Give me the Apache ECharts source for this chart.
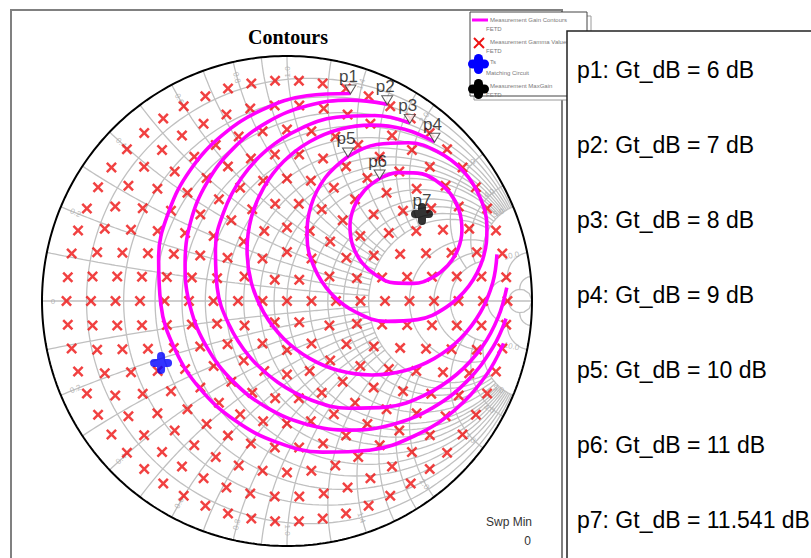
<!DOCTYPE html>
<html><head><meta charset="utf-8">
<script src="https://cdn.jsdelivr.net/npm/echarts@6/dist/echarts.min.js"></script>
<style>html,body{margin:0;padding:0;background:#fff;overflow:hidden}#c{width:811px;height:558px}</style>
</head><body><div id="c"></div>
<script>
// ---------- data (reflection coefficient Γ = [re, im]) ----------
const markerNames = ['p1','p2','p3','p4','p5','p6','p7'];
const markerGains = ['6','7','8','9','10','11','11.541'];

const contour6dB  = [[0.259,0.847],[0.081,0.838],[-0.102,0.780],[-0.264,0.677],[-0.394,0.536],[-0.482,0.366],[-0.524,0.178],[-0.515,-0.013],[-0.458,-0.196],[-0.355,-0.358],[-0.213,-0.487],[-0.043,-0.576],[0.144,-0.617],[0.336,-0.609],[0.519,-0.551],[0.680,-0.449],[0.810,-0.307],[0.884,-0.173]];
const contour7dB  = [[0.409,0.803],[0.257,0.820],[0.083,0.797],[-0.080,0.730],[-0.219,0.623],[-0.326,0.484],[-0.394,0.321],[-0.416,0.147],[-0.394,-0.027],[-0.326,-0.190],[-0.219,-0.329],[-0.080,-0.436],[0.083,-0.504],[0.257,-0.527],[0.431,-0.504],[0.594,-0.436],[0.733,-0.329],[0.840,-0.190],[0.894,-0.072]];
const contour8dB  = [[0.501,0.727],[0.358,0.757],[0.202,0.750],[0.053,0.703],[-0.080,0.619],[-0.185,0.503],[-0.258,0.364],[-0.292,0.212],[-0.285,0.055],[-0.238,-0.094],[-0.154,-0.226],[-0.038,-0.332],[0.101,-0.405],[0.254,-0.438],[0.410,-0.432],[0.560,-0.385],[0.692,-0.300],[0.798,-0.185],[0.862,-0.066],[0.897,0.055]];
const contour9dB  = [[0.602,0.650],[0.479,0.701],[0.347,0.718],[0.215,0.701],[0.092,0.650],[-0.014,0.569],[-0.095,0.463],[-0.146,0.340],[-0.163,0.208],[-0.146,0.076],[-0.095,-0.047],[-0.014,-0.153],[0.092,-0.234],[0.215,-0.285],[0.347,-0.302],[0.479,-0.285],[0.602,-0.234],[0.708,-0.153],[0.789,-0.047],[0.840,0.076],[0.857,0.190]];
const contour10dB = [[0.249,0.590],[0.156,0.503],[0.098,0.389],[0.082,0.262],[0.111,0.138],[0.180,0.031],[0.282,-0.046],[0.404,-0.083],[0.532,-0.076],[0.649,-0.026],[0.742,0.061],[0.800,0.174],[0.816,0.301],[0.787,0.425],[0.718,0.532],[0.616,0.609],[0.494,0.646],[0.366,0.639],[0.249,0.590]];
const contour11dB = [[0.378,0.500],[0.316,0.451],[0.274,0.384],[0.257,0.306],[0.268,0.227],[0.306,0.157],[0.365,0.104],[0.438,0.074],[0.518,0.072],[0.593,0.096],[0.656,0.145],[0.698,0.212],[0.714,0.290],[0.703,0.369],[0.666,0.439],[0.607,0.492],[0.533,0.522],[0.454,0.524],[0.378,0.500]];

const maxGainGamma  = [0.551, 0.355];
const matchingGamma = [-0.514, -0.253];

// measured gamma sample grid: rings of |Γ| and number of samples on each ring
const gammaRingMag   = [0, 0.1, 0.2, 0.3, 0.4, 0.5, 0.6, 0.7, 0.8, 0.9];
const gammaRingCount = [1, 6, 12, 20, 26, 32, 38, 44, 50, 58];

// Smith chart grid definition
const smithR      = [0.1,0.2,0.3,0.4,0.5,0.6,0.7,0.8,0.9,1.0,1.2,1.4,1.6,1.8,2.0,3,4,5,10,20];
const smithRLimit = [5,5,5,5,5,5,5,5,5,5,5,5,5,5,5,5,5,5,10,Infinity];
const smithX      = [0.1,0.2,0.3,0.4,0.5,0.6,0.7,0.8,0.9,1.0,1.2,1.4,1.6,1.8,2.0,3,4,5,10,20];
const smithXLimit = [2,2,2,2,2,2,2,2,2,2,2,2,2,2,2,5,5,5,10,20];
const smithLabelX = [0.2,0.4,0.6,0.8,1.0,1.4,2.0,3.0,4.0,5.0,10.0];

// ---------- helpers ----------
function gam(r, x){ const d=(r+1)*(r+1)+x*x; return [(r*r-1+x*x)/d, 2*x/d]; }
const gridLines = [];
smithR.forEach((r,i)=>{
  const L=smithRLimit[i], tm=L===Infinity?Math.PI/2*0.99999:Math.atan(L), n=180;
  for(let k=0;k<=n;k++){ const t=-tm+2*tm*k/n; gridLines.push(gam(r,Math.tan(t))); }
  gridLines.push(['-','-']);
});
smithX.forEach((x,i)=>{
  const L=smithXLimit[i], tm=L===Infinity?Math.PI/2*0.99999:Math.atan(L), n=120;
  [1,-1].forEach(s=>{
    for(let k=0;k<=n;k++){ const t=tm*k/n; gridLines.push(gam(Math.tan(t), s*x)); }
    gridLines.push(['-','-']);
  });
});
gridLines.push([-1,0],[1,0]);

const outer=[];
for(let k=0;k<=360;k++){ const a=k*Math.PI/180; outer.push([Math.cos(a),Math.sin(a)]); }

const smithLabels=[{value:[-0.955,0],name:'0',label:{rotate:0}}];
smithLabelX.forEach(v=>{
  [1,-1].forEach(s=>{
    const th=s*(Math.PI-2*Math.atan(v));
    let deg=th*180/Math.PI; if(deg>90)deg-=180; if(deg<-90)deg+=180;
    smithLabels.push({value:[0.935*Math.cos(th),0.935*Math.sin(th)],name:v.toFixed(1),label:{rotate:deg}});
  });
});

const gammaSamples=[];
gammaRingMag.forEach((m,i)=>{
  const n=gammaRingCount[i];
  for(let k=0;k<n;k++){ const a=2*Math.PI*k/n; gammaSamples.push([m*Math.cos(a), m*Math.sin(a)]); }
});

const contours=[contour6dB,contour7dB,contour8dB,contour9dB,contour10dB,contour11dB];
const markerData=contours.map((c,i)=>({name:markerNames[i],value:c[0]}));

const X_SYM='path://M0,1.6L1.6,0L5,3.4L8.4,0L10,1.6L6.6,5L10,8.4L8.4,10L5,6.6L1.6,10L0,8.4L3.4,5Z';
const PLUS_SYM='path://M7,4A4,4,0,0,1,15,4L15,7L18,7A4,4,0,0,1,18,15L15,15L15,18A4,4,0,0,1,7,18L7,15L4,15A4,4,0,0,1,4,7L7,7Z';

const series=[
  {type:'line',data:gridLines,symbol:'none',silent:true,z:1,connectNulls:false,
   lineStyle:{color:'#c0c0c0',width:1.3}},
  {type:'scatter',data:smithLabels,symbolSize:0,silent:true,z:2,
   label:{show:true,position:'inside',formatter:p=>p.name,fontSize:8,color:'#a8a8a8',fontFamily:'Liberation Sans'}},
  {type:'line',data:outer,symbol:'none',silent:true,z:3,lineStyle:{color:'#000',width:2}},
  {type:'scatter',data:gammaSamples,symbol:X_SYM,symbolSize:11,z:4,itemStyle:{color:'#ee1111'}}
];
contours.forEach(c=>series.push({type:'line',data:c,symbol:'none',smooth:0.4,z:5,
  lineStyle:{color:'#ff00ff',width:3.6}}));
series.push({type:'scatter',data:[matchingGamma],symbol:PLUS_SYM,symbolSize:22,z:6,itemStyle:{color:'#0000ff'}});
series.push({type:'scatter',data:[{name:'p7',value:maxGainGamma}],symbol:PLUS_SYM,symbolSize:22,z:6,itemStyle:{color:'#000'},
  label:{show:true,position:'top',distance:-6,formatter:'{b}',fontSize:17,color:'#111',fontFamily:'Liberation Sans'}});
series.push({type:'scatter',data:markerData,symbol:'triangle',symbolRotate:180,symbolSize:[11,9],symbolOffset:[0,-4],z:7,
  itemStyle:{color:'#fff',borderColor:'#333',borderWidth:1},
  label:{show:true,position:'top',distance:0,offset:[-2,0],formatter:'{b}',fontSize:17,color:'#111',fontFamily:'Liberation Sans'}});

// ---------- panels / texts ----------
const panelTexts=markerNames.map((n,i)=>({type:'text',x:577,y:70+75*i,z:20,
  style:{text:n+': Gt_dB = '+markerGains[i]+' dB',font:'23px "Liberation Sans", Arial',fill:'#000',verticalAlign:'middle'}}));

const lg='#7a7a7a', lf='6px "Liberation Sans", Arial';
const graphic=[
  {type:'rect',shape:{x:11,y:10,width:551,height:600},style:{fill:'none',stroke:'#808080',lineWidth:2},z:0},
  {type:'text',x:288,y:37,style:{text:'Contours',font:'bold 20px "Liberation Serif", "Times New Roman", serif',fill:'#000',align:'center',verticalAlign:'middle'},z:10},
  {type:'text',x:532,y:522,style:{text:'Swp Min',font:'12px "Liberation Sans", Arial',fill:'#333',align:'right',verticalAlign:'middle'},z:10},
  {type:'text',x:531,y:541,style:{text:'0',font:'12px "Liberation Sans", Arial',fill:'#333',align:'right',verticalAlign:'middle'},z:10},
  {type:'rect',shape:{x:474,y:16,width:117,height:84},style:{fill:'#fff',stroke:'#9a9a9a',lineWidth:1},z:11},
  {type:'rect',shape:{x:470,y:12,width:117,height:84},style:{fill:'#fff',stroke:'#444',lineWidth:1},z:12},
  {type:'line',shape:{x1:472,y1:20,x2:488,y2:20},style:{stroke:'#ff00ff',lineWidth:3},z:13},
  {type:'text',x:490,y:20,style:{text:'Measurement Gain Contours',font:lf,fill:lg,verticalAlign:'middle'},z:13},
  {type:'text',x:486,y:29,style:{text:'FETD',font:lf,fill:lg,verticalAlign:'middle'},z:13},
  {type:'line',shape:{x1:474,y1:38,x2:484,y2:48},style:{stroke:'#ee1111',lineWidth:2},z:13},
  {type:'line',shape:{x1:484,y1:38,x2:474,y2:48},style:{stroke:'#ee1111',lineWidth:2},z:13},
  {type:'text',x:490,y:42,style:{text:'Measurement Gamma Values',font:lf,fill:lg,verticalAlign:'middle'},z:13},
  {type:'text',x:486,y:51,style:{text:'FETD',font:lf,fill:lg,verticalAlign:'middle'},z:13},
  {type:'text',x:490,y:62,style:{text:'Ts',font:lf,fill:lg,verticalAlign:'middle'},z:13},
  {type:'text',x:486,y:73,style:{text:'Matching Circuit',font:lf,fill:lg,verticalAlign:'middle'},z:13},
  {type:'rect',shape:{x:474,y:54,width:9,height:20,r:4.5},style:{fill:'#0000ff'},z:14},
  {type:'rect',shape:{x:468,y:59.5,width:21,height:9,r:4.5},style:{fill:'#0000ff'},z:14},
  {type:'text',x:490,y:86,style:{text:'Measurement MaxGain',font:lf,fill:lg,verticalAlign:'middle'},z:13},
  {type:'text',x:486,y:95,style:{text:'FETD',font:lf,fill:lg,verticalAlign:'middle'},z:13},
  {type:'rect',shape:{x:474,y:79,width:9,height:20,r:4.5},style:{fill:'#000'},z:14},
  {type:'rect',shape:{x:468,y:84.5,width:21,height:9,r:4.5},style:{fill:'#000'},z:14},
  {type:'rect',shape:{x:567,y:31,width:300,height:600},style:{fill:'#fff',stroke:'#222',lineWidth:1.5},z:18}
].concat(panelTexts);

const chart=echarts.init(document.getElementById('c'),null,{renderer:'svg',width:811,height:558});
chart.setOption({
  animation:false,
  backgroundColor:'#fff',
  grid:{left:42,top:56,width:490,height:490},
  xAxis:{type:'value',min:-1,max:1,show:false},
  yAxis:{type:'value',min:-1,max:1,show:false},
  series:series,
  graphic:graphic
});
</script></body></html>
